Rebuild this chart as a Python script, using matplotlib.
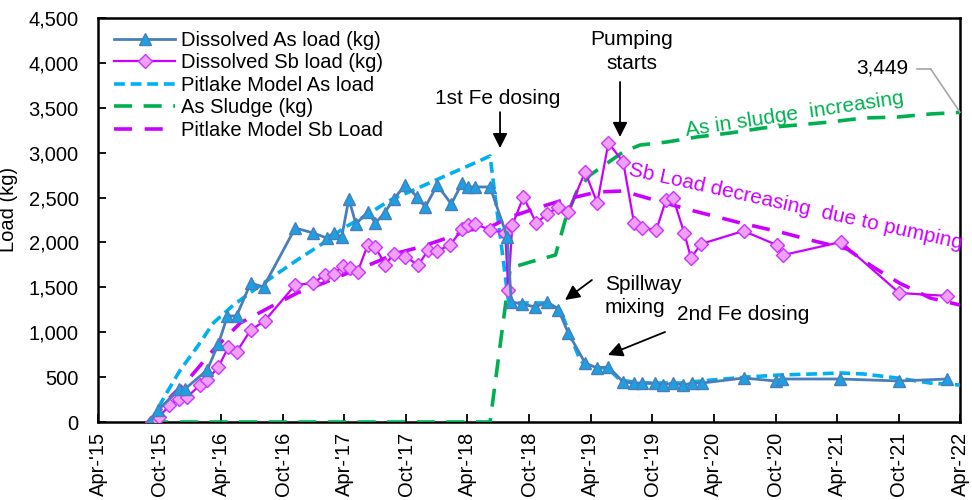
import matplotlib
matplotlib.use("Agg")
import matplotlib.pyplot as plt
import matplotlib.dates as mdates
import numpy as np
import pandas as pd

plt.rcParams['font.family'] = ['Liberation Sans', 'DejaVu Sans']

# ---- Dissolved As load (kg), sampled ----
as_dates = ["2015-09-03", "2015-09-27", "2015-11-28", "2015-12-15", "2016-02-19",
            "2016-03-23", "2016-04-19", "2016-05-16", "2016-06-27", "2016-08-04",
            "2016-11-06", "2016-12-30", "2017-02-07", "2017-02-28", "2017-03-24",
            "2017-04-14", "2017-05-05", "2017-06-09", "2017-07-02", "2017-07-29",
            "2017-08-25", "2017-09-29", "2017-11-03", "2017-11-27", "2018-01-01",
            "2018-02-12", "2018-03-16", "2018-04-03", "2018-04-23", "2018-06-07",
            "2018-07-28", "2018-08-09", "2018-09-11", "2018-10-19", "2018-11-24",
            "2018-12-27", "2019-01-25", "2019-03-16", "2019-04-21", "2019-05-24",
            "2019-07-07", "2019-08-08", "2019-09-01", "2019-10-10", "2019-11-02",
            "2019-12-02", "2020-01-01", "2020-01-27", "2020-02-26", "2020-06-28",
            "2020-10-01", "2020-10-21", "2021-04-10", "2021-10-03", "2022-02-22"]
as_load = [0, 134, 368, 368, 579,
           869, 1181, 1181, 1548, 1504,
           2161, 2105, 2050, 2105, 2061,
           2484, 2206, 2339, 2217, 2328,
           2484, 2640, 2506, 2395, 2640,
           2428, 2662, 2618, 2618, 2618,
           2061, 1337, 1314, 1281, 1337,
           1248, 991, 657, 601, 613,
           446, 434, 434, 434, 412,
           434, 412, 434, 434, 490,
           457, 479, 479, 457, 479]

# ---- Dissolved Sb load (kg), sampled ----
sb_dates = ["2015-09-09", "2015-09-30", "2015-10-30", "2015-11-28", "2015-12-21",
            "2016-01-29", "2016-02-19", "2016-03-23", "2016-04-22", "2016-05-16",
            "2016-06-27", "2016-08-07", "2016-11-06", "2016-12-30", "2017-02-01",
            "2017-02-28", "2017-03-27", "2017-04-17", "2017-05-10", "2017-06-09",
            "2017-07-02", "2017-07-31", "2017-08-25", "2017-09-29", "2017-11-06",
            "2017-12-06", "2018-01-01", "2018-02-09", "2018-03-16", "2018-04-03",
            "2018-04-23", "2018-06-07", "2018-07-22", "2018-07-31", "2018-08-12",
            "2018-09-14", "2018-10-22", "2018-11-24", "2018-12-27", "2019-01-25",
            "2019-03-16", "2019-04-21", "2019-05-24", "2019-07-07", "2019-08-08",
            "2019-09-01", "2019-10-13", "2019-11-11", "2019-12-02", "2020-01-04",
            "2020-01-24", "2020-02-23", "2020-06-28", "2020-10-04", "2020-10-24",
            "2021-04-13", "2021-10-03", "2022-02-22"]
sb_load = [0, 56, 189, 256, 278,
           412, 468, 613, 835, 780,
           1025, 1125, 1526, 1548, 1637,
           1649, 1738, 1715, 1671, 1972,
           1949, 1749, 1871, 1838, 1749,
           1916, 1905, 1972, 2150, 2194,
           2206, 2139, 2105, 1470, 2194,
           2506, 2217, 2317, 2395, 2339,
           2785, 2439, 3108, 2896, 2217,
           2161, 2139, 2473, 2495, 2105,
           1827, 1983, 2128, 1972, 1860,
           2005, 1437, 1404]

# ---- Pitlake model As load ----
mod_as_dates = ["2015-09-03", "2015-10-18", "2015-12-01", "2016-01-20", "2016-03-08",
                "2016-05-07", "2016-08-04", "2016-11-12", "2017-01-29", "2017-03-30",
                "2017-05-27", "2017-08-16", "2017-10-23", "2018-01-31", "2018-04-09",
                "2018-06-07", "2018-07-31", "2018-08-15", "2018-11-24", "2019-01-01",
                "2019-02-09", "2019-03-01", "2019-03-22", "2019-05-21", "2019-06-28",
                "2019-08-26", "2019-12-23", "2020-03-28", "2020-07-09", "2020-10-15",
                "2021-01-21", "2021-04-10", "2021-06-18", "2021-09-27", "2022-01-03",
                "2022-04-01"]
mod_as_load = [0, 301, 579, 835, 1103,
               1303, 1548, 1805, 1994, 2161,
               2284, 2473, 2584, 2751, 2863,
               2963, 1359, 1326, 1326, 1248,
               880, 691, 613, 601, 468,
               434, 434, 468, 501, 524,
               535, 546, 535, 490, 434,
               412]

# ---- As sludge (kg) ----
sludge_dates = ["2015-09-03", "2018-06-07", "2018-08-06", "2018-10-04", "2018-12-18",
                "2019-01-16", "2019-02-21", "2019-03-31", "2019-05-21", "2019-07-07",
                "2019-08-26", "2019-11-14", "2020-02-11", "2020-05-19", "2020-08-25",
                "2020-12-04", "2021-03-13", "2021-06-18", "2021-09-27", "2022-01-03",
                "2022-04-01"]
sludge_load = [0, 0, 1715, 1782, 1860,
               2250, 2584, 2751, 2885, 3008,
               3085, 3119, 3175, 3219, 3275,
               3308, 3342, 3386, 3397, 3431,
               3449]

# ---- Pitlake model Sb load ----
mod_sb_dates = ["2015-09-03", "2015-11-02", "2015-12-31", "2016-03-08", "2016-05-27",
                "2016-08-24", "2016-11-12", "2017-01-29", "2017-04-11", "2017-06-27",
                "2017-09-05", "2017-11-12", "2018-01-31", "2018-04-09", "2018-06-07",
                "2018-08-06", "2018-10-25", "2019-01-10", "2019-04-21", "2019-07-07",
                "2019-09-16", "2020-01-21", "2020-06-19", "2020-10-15", "2021-01-12",
                "2021-05-01", "2021-07-17", "2021-10-03", "2022-01-03", "2022-04-01"]
mod_sb_load = [0, 278, 501, 802, 1103,
               1281, 1437, 1548, 1660, 1771,
               1883, 1949, 2050, 2139, 2172,
               2284, 2384, 2473, 2562, 2573,
               2495, 2362, 2217, 2116, 2027,
               1927, 1727, 1548, 1381, 1303]

x_ticklabels_fmt = "%b-'%y"

fig = plt.figure(figsize=(9.72, 5.0), dpi=100)
ax = fig.add_axes([98 / 972, 1 - 422 / 500, 862 / 972, 404 / 500])

d = pd.to_datetime

ax.plot(d(as_dates), as_load, color='#4A7EBB', lw=2.0, marker='^', ms=9,
        mfc='#1BA1E2', mec='#4A7EBB', mew=1.0, label='Dissolved As load (kg)', zorder=5)
ax.plot(d(sb_dates), sb_load, color='#CC00FF', lw=1.6, marker='D', ms=7,
        mfc='#F0A0F8', mec='#CC33FF', mew=1.0, label='Dissolved Sb load (kg)', zorder=4)
ax.plot(d(mod_as_dates), mod_as_load, color='#00B0F0', lw=2.6, ls=(0, (3.0, 1.6)),
        label='Pitlake Model As load', zorder=3)
ax.plot(d(sludge_dates), sludge_load, color='#00B050', lw=2.6, ls=(0, (5.0, 3.2)),
        label='As Sludge (kg)', zorder=3)
ax.plot(d(mod_sb_dates), mod_sb_load, color='#CC00FF', lw=2.6, ls=(0, (5.0, 3.5)),
        label='Pitlake Model Sb Load', zorder=3)

ax.set_xlim(pd.Timestamp("2015-04-01"), pd.Timestamp("2022-04-01"))
ax.set_ylim(0, 4500)
ax.set_yticks(np.arange(0, 4501, 500))
ax.yaxis.set_major_formatter(matplotlib.ticker.FuncFormatter(lambda v, p: f"{v:,.0f}"))
ax.xaxis.set_major_locator(mdates.MonthLocator(bymonth=[4, 10]))
ax.xaxis.set_major_formatter(mdates.DateFormatter(x_ticklabels_fmt))
ax.tick_params(axis='both', direction='in', length=6, width=1.3, labelsize=14.5)
ax.tick_params(axis='y', pad=14)
ax.tick_params(axis='x', rotation=90, pad=7)
for s in ax.spines.values():
    s.set_linewidth(1.8)
    s.set_color('black')
ax.set_ylabel('Load (kg)', fontsize=14.5)
ax.yaxis.set_label_coords(-0.093, 0.525)

leg = ax.legend(loc='upper left', bbox_to_anchor=(0.005, 0.998), frameon=False,
                fontsize=14.5, handlelength=3.0, handletextpad=0.3, labelspacing=0.17,
                borderaxespad=0.2)

arrow = dict(arrowstyle='-|>', color='black', lw=1.3, mutation_scale=22,
             shrinkA=0, shrinkB=0)
ann_fs = 15

ax.text(0.464, 0.80, '1st Fe dosing', transform=ax.transAxes, ha='center', va='center',
        fontsize=ann_fs)
ax.annotate('', xy=(0.4664, 0.678), xytext=(0.4664, 0.767), xycoords='axes fraction',
            textcoords='axes fraction', arrowprops=arrow)

ax.text(0.6195, 0.917, 'Pumping\nstarts', transform=ax.transAxes, ha='center', va='center',
        fontsize=ann_fs, linespacing=1.3)
ax.annotate('', xy=(0.6056, 0.7054), xytext=(0.6056, 0.8416), xycoords='axes fraction',
            textcoords='axes fraction', arrowprops=arrow)

ax.text(0.588, 0.312, 'Spillway\nmixing', transform=ax.transAxes, ha='left', va='center',
        fontsize=ann_fs, linespacing=1.3)
ax.annotate('', xy=(0.5418, 0.302), xytext=(0.573, 0.3515), xycoords='axes fraction',
            textcoords='axes fraction', arrowprops=arrow)

ax.text(0.748, 0.265, '2nd Fe dosing', transform=ax.transAxes, ha='center', va='center',
        fontsize=ann_fs)
ax.annotate('', xy=(0.5916, 0.1658), xytext=(0.6578, 0.2228), xycoords='axes fraction',
            textcoords='axes fraction', arrowprops=arrow)

ax.text(0.8086, 0.762, 'As in sludge  increasing', transform=ax.transAxes, ha='center',
        va='center', fontsize=ann_fs, color='#00B050', rotation=8.5, rotation_mode='anchor')
ax.text(0.8097, 0.532, 'Sb Load decreasing  due to pumping', transform=ax.transAxes,
        ha='center', va='center', fontsize=ann_fs, color='#CC00FF', rotation=-12.5,
        rotation_mode='anchor')

# label for the final sludge value with a grey leader line
end_x = d(sludge_dates[-1])
end_y = sludge_load[-1]
ax.text(0.9397, 0.876, f"{end_y:,.0f}", transform=ax.transAxes, ha='right', va='center',
        fontsize=ann_fs)
ax.plot([0.950, 0.966], [0.874, 0.874], color='#A6A6A6', lw=1.2,
        transform=ax.transAxes, clip_on=False)
ax.annotate('', xy=(end_x, end_y), xytext=(0.966, 0.874), textcoords='axes fraction',
            arrowprops=dict(arrowstyle='-', color='#A6A6A6', lw=1.2, shrinkA=0, shrinkB=0))

fig.savefig('out.png', dpi=100)
